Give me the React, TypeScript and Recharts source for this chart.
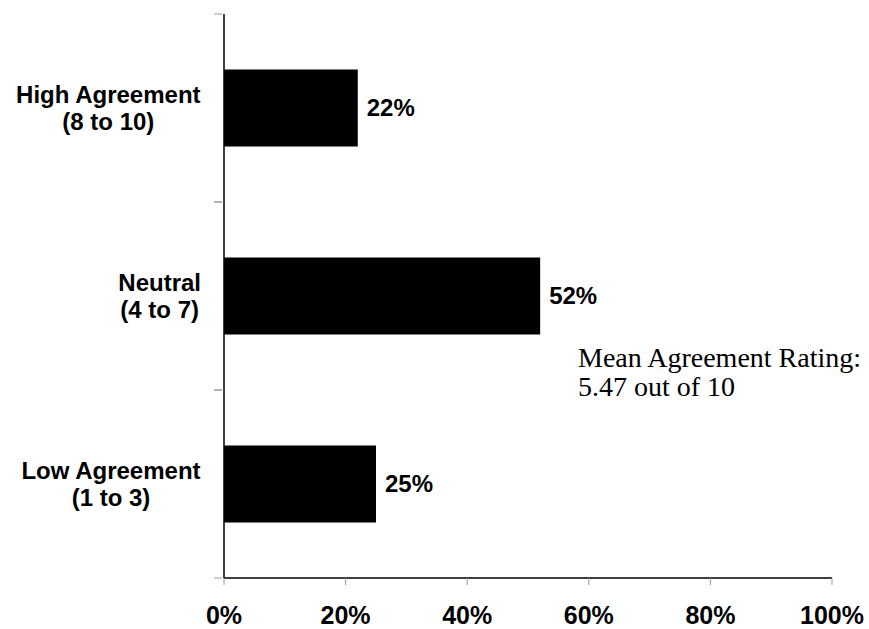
import React from "react";
import { BarChart, Bar, XAxis, YAxis, LabelList } from "recharts";

const categories = ["High Agreement|(8 to 10)", "Neutral|(4 to 7)", "Low Agreement|(1 to 3)"];
const values = [22, 52, 25];
const xTicks = [0, 20, 40, 60, 80, 100];
const noteLines = ["Mean Agreement Rating:", "5.47 out of 10"];

const data = categories.map((c, i) => ({ name: c, value: values[i] }));

const SANS = "'Liberation Sans', Arial, sans-serif";
const SERIF = "'Liberation Serif', 'Times New Roman', serif";
const CAT_FONT = 24;
const HALF_BAND = 94;

let ctx: CanvasRenderingContext2D | null = null;
const measure = (s: string) => {
  if (!ctx) {
    const c = document.createElement("canvas");
    ctx = c.getContext("2d");
  }
  if (!ctx) return s.length * CAT_FONT * 0.6;
  ctx.font = `bold ${CAT_FONT}px 'Liberation Sans', Arial, sans-serif`;
  return ctx.measureText(s).width;
};

const CatTick = (props: any) => {
  const { x, y, payload } = props;
  const lines = String(payload.value).split("|");
  const w = Math.max(...lines.map(measure));
  const cx = 201 - w / 2;
  return (
    <g>
      <line x1={x - 8} x2={x} y1={y - HALF_BAND} y2={y - HALF_BAND} stroke="#999" />
      <line x1={x - 8} x2={x} y1={y + HALF_BAND} y2={y + HALF_BAND} stroke="#999" />
      <text x={cx} y={y} textAnchor="middle" fontFamily={SANS} fontWeight="bold" fontSize={CAT_FONT} fill="#000">
        <tspan x={cx} dy={-5}>{lines[0]}</tspan>
        <tspan x={cx} dy={27}>{lines[1]}</tspan>
      </text>
    </g>
  );
};

export default function App() {
  return (
    <div style={{ position: "absolute", left: 0, top: 0, width: 869, height: 629, background: "#fff" }}>
      <BarChart
        width={869}
        height={629}
        data={data}
        layout="vertical"
        margin={{ top: 14, right: 37, bottom: 0, left: 0 }}
        barCategoryGap="29.5%"
      >
        <XAxis
          type="number"
          domain={[0, 100]}
          ticks={xTicks}
          tickFormatter={(v: number) => `${v}%`}
          height={51}
          tickSize={7}
          tickMargin={21}
          axisLine={{ stroke: "#000", strokeWidth: 1.5 }}
          tickLine={{ stroke: "#999" }}
          tick={{ fontFamily: SANS, fontWeight: "bold", fontSize: 25, fill: "#000" }}
          interval={0}
        />
        <YAxis
          type="category"
          dataKey="name"
          width={224}
          tickSize={0}
          axisLine={{ stroke: "#000", strokeWidth: 1.5 }}
          tickLine={false}
          tick={<CatTick />}
        />
        <Bar dataKey="value" fill="#000" isAnimationActive={false}>
          <LabelList
            dataKey="value"
            position="right"
            offset={9}
            formatter={(v: any) => `${v}%`}
            style={{ fontFamily: SANS, fontWeight: "bold", fontSize: 24, fill: "#000" }}
          />
        </Bar>
      </BarChart>
      <div
        style={{
          position: "absolute",
          left: 578,
          top: 343,
          fontFamily: SERIF,
          fontSize: 28,
          lineHeight: "29px",
          color: "#000",
          whiteSpace: "nowrap",
        }}
      >
        {noteLines.map((l) => (
          <div key={l}>{l}</div>
        ))}
      </div>
    </div>
  );
}
